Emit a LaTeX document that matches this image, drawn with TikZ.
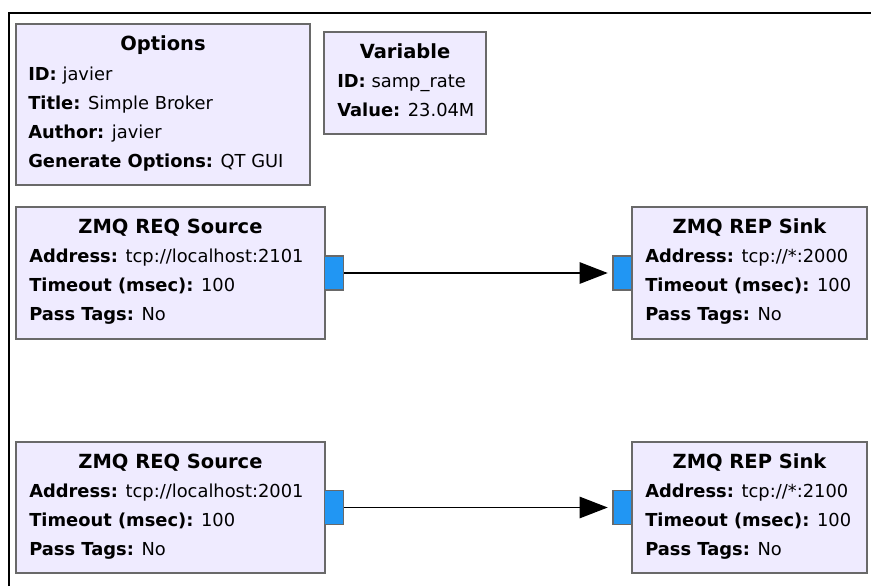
\documentclass[tikz,border=0pt]{standalone}
\usepackage{fontspec}
\setmainfont{DejaVu Sans}
\usetikzlibrary{arrows.meta}

\definecolor{blkfill}{RGB}{239,235,255}
\definecolor{blkline}{RGB}{105,105,105}
\definecolor{portfill}{RGB}{33,150,243}

\tikzset{
  block/.style={draw=blkline, fill=blkfill, line width=0.9pt},
  port/.style={draw=blkline, fill=portfill, line width=0.9pt, inner sep=0pt, minimum width=14.25pt, minimum height=25.5pt},
  ttl/.style={anchor=base, inner sep=0pt, font=\fontsize{14.6}{17}\selectfont\bfseries},
  txt/.style={anchor=base west, inner sep=0pt, font=\fontsize{13.4}{16}\selectfont},
  wire/.style={draw=black, line width=1.1pt, shorten >=3.5pt, -{Triangle[length=21pt,width=16pt]}}
}

\begin{document}
\begin{tikzpicture}[x=0.75pt,y=0.75pt,yscale=-1,xscale=1]
    \useasboundingbox (0,0) rectangle (871,586);

    %Shape: Frame
    \draw [line width=1.5pt] (9,586) -- (9,13) -- (871,13) ;

    %Shape: Rectangle [Options]
    \draw [block] (16,24) rectangle (310,185) ;
    %Shape: Rectangle [Variable]
    \draw [block] (324,32) rectangle (486,134) ;
    %Shape: Rectangle [ZMQ REQ Source 1]
    \draw [block] (16,207) rectangle (325,339) ;
    %Shape: Rectangle [ZMQ REP Sink 1]
    \draw [block] (632,207) rectangle (867,339) ;
    %Shape: Rectangle [ZMQ REQ Source 2]
    \draw [block] (16,442) rectangle (325,573) ;
    %Shape: Rectangle [ZMQ REP Sink 2]
    \draw [block] (632,442) rectangle (867,573) ;

    % Ports
    \node (srcAout) [port] at (334,273) {};
    \node (snkAin) [port] at (622.5,273) {};
    \node (srcBout) [port] at (334,507.5) {};
    \node (snkBin) [port] at (622.5,507.5) {};

    % Connections
    \draw [wire] (srcAout.east) -- (snkAin.west) ;
    \draw [wire] (srcBout.east) -- (snkBin.west) ;

    % Text Node [Options]
    \node (optT) [ttl] at (163,50) {Options};
    \node (optA) [txt] at (28,80) {\textbf{ID:} javier};
    \node (optB) [txt] at (28,109) {\textbf{Title:} Simple Broker};
    \node (optC) [txt] at (28,138) {\textbf{Author:} javier};
    \node (optD) [txt] at (28,167) {\textbf{Generate Options:} QT GUI};

    % Text Node [Variable]
    \node (varT) [ttl] at (405,58) {Variable};
    \node (varA) [txt] at (337,87) {\textbf{ID:} samp\_rate};
    \node (varB) [txt] at (337,116) {\textbf{Value:} 23.04M};

    % Text Node [Source 1]
    \node (srcAT) [ttl] at (170.5,233) {ZMQ REQ Source};
    \node (srcAa) [txt] at (29,262) {\textbf{Address:} tcp://localhost:2101};
    \node (srcAb) [txt] at (29,291) {\textbf{Timeout (msec):} 100};
    \node (srcAc) [txt] at (29,320) {\textbf{Pass Tags:} No};

    % Text Node [Sink 1]
    \node (snkAT) [ttl] at (749.5,233) {ZMQ REP Sink};
    \node (snkAa) [txt] at (645,262) {\textbf{Address:} tcp://*:2000};
    \node (snkAb) [txt] at (645,291) {\textbf{Timeout (msec):} 100};
    \node (snkAc) [txt] at (645,320) {\textbf{Pass Tags:} No};

    % Text Node [Source 2]
    \node (srcBT) [ttl] at (170.5,468) {ZMQ REQ Source};
    \node (srcBa) [txt] at (29,497) {\textbf{Address:} tcp://localhost:2001};
    \node (srcBb) [txt] at (29,526) {\textbf{Timeout (msec):} 100};
    \node (srcBc) [txt] at (29,555) {\textbf{Pass Tags:} No};

    % Text Node [Sink 2]
    \node (snkBT) [ttl] at (749.5,468) {ZMQ REP Sink};
    \node (snkBa) [txt] at (645,497) {\textbf{Address:} tcp://*:2100};
    \node (snkBb) [txt] at (645,526) {\textbf{Timeout (msec):} 100};
    \node (snkBc) [txt] at (645,555) {\textbf{Pass Tags:} No};

\end{tikzpicture}
\end{document}
